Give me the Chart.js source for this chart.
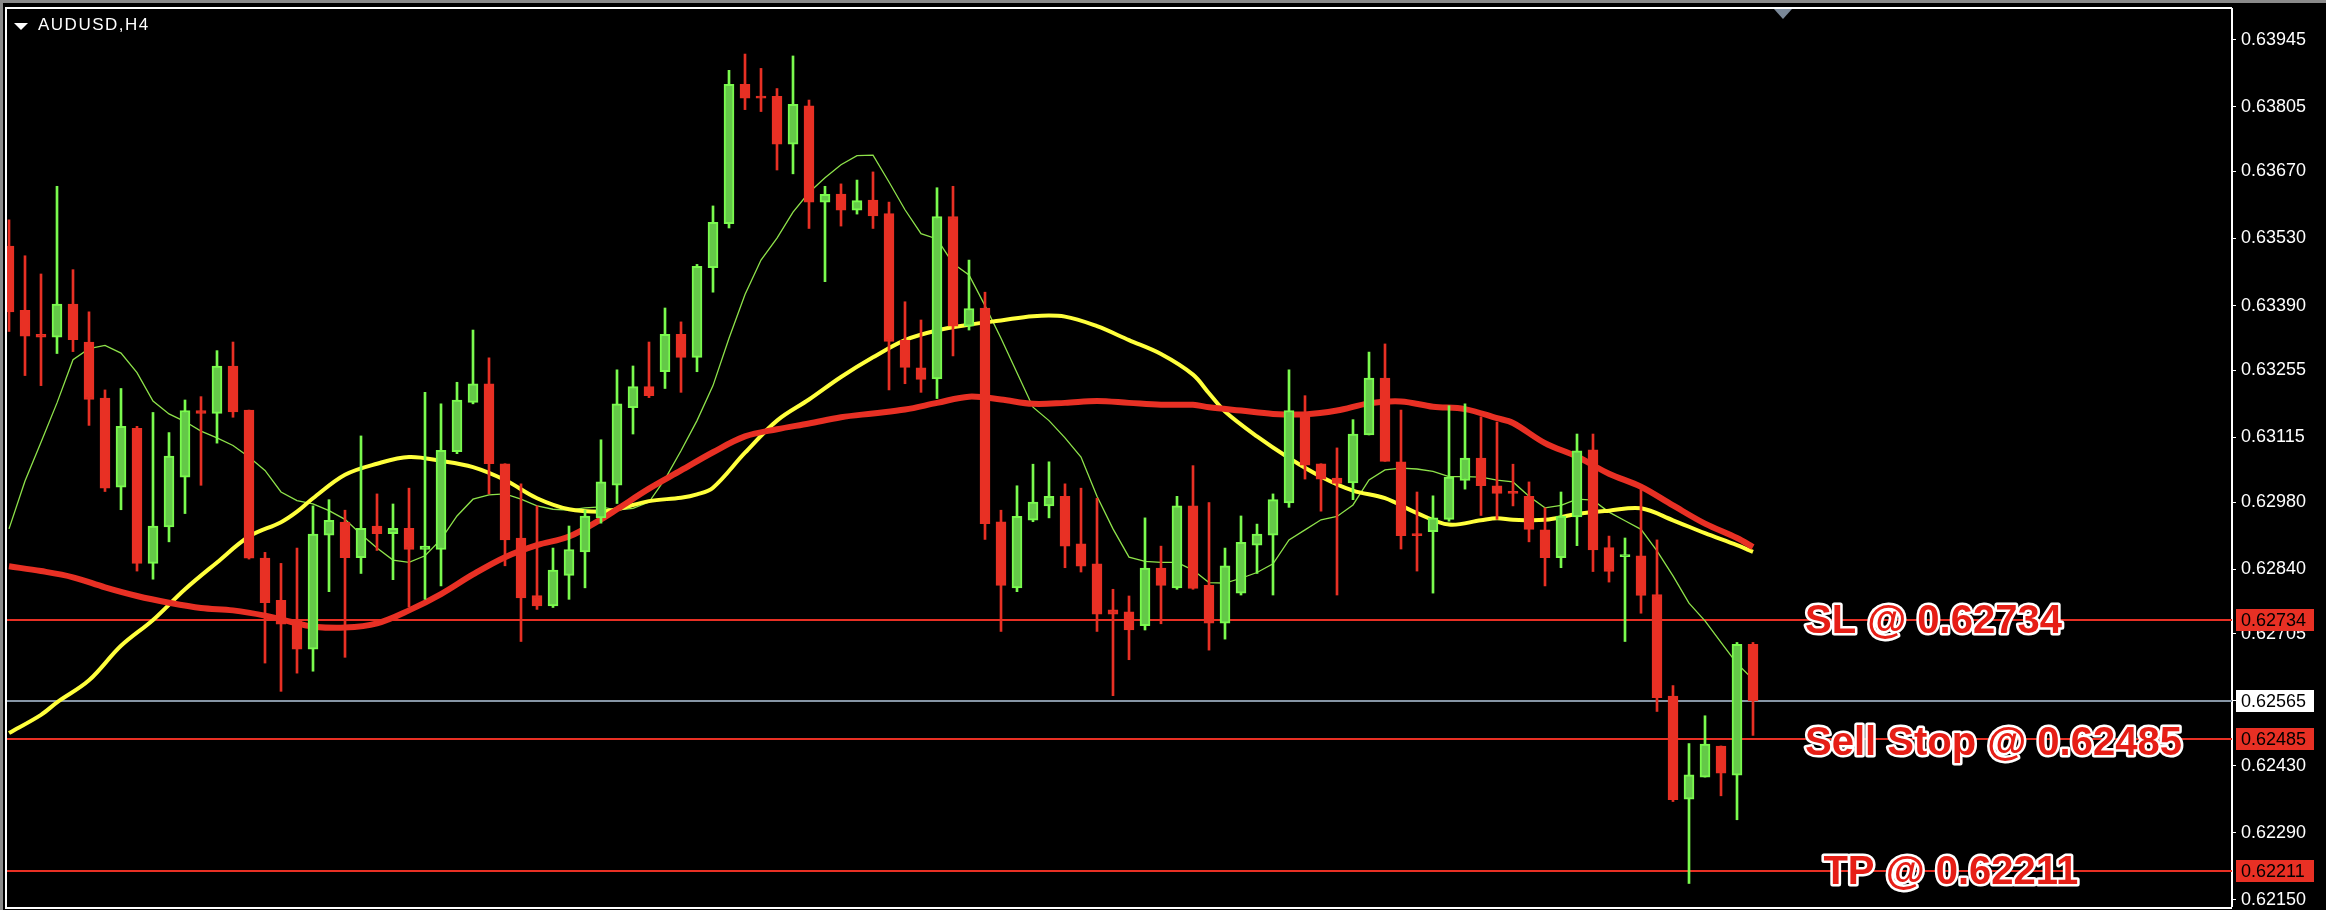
<!DOCTYPE html>
<html><head><meta charset="utf-8">
<script src="https://cdn.jsdelivr.net/npm/chart.js@4.4.0/dist/chart.umd.min.js"></script>
<style>html,body{margin:0;padding:0;background:#000;overflow:hidden}#wrap{width:2326px;height:910px;position:relative}</style>
</head><body><div id="wrap"><canvas id="c" width="2326" height="910"></canvas></div>
<script>
// ---------------- DATA ----------------
const symbolTitle = 'AUDUSD,H4';
const openP = [0.63514,0.63380,0.63330,0.63324,0.63393,0.63314,0.63197,0.63011,0.63134,0.62852,
0.62928,0.63032,0.63171,0.63165,0.63264,0.63172,0.62863,0.62775,0.62731,0.62673,
0.62911,0.62938,0.62864,0.62930,0.62914,0.62925,0.62881,0.62881,0.63085,0.63188,
0.63227,0.63060,0.62905,0.62785,0.62763,0.62827,0.62876,0.62947,0.63015,0.63177,
0.63221,0.63252,0.63330,0.63282,0.63469,0.63561,0.63852,0.63827,0.63827,0.63727,
0.63807,0.63606,0.63623,0.63589,0.63610,0.63582,0.63318,0.63260,0.63237,0.63576,
0.63347,0.63385,0.62939,0.62801,0.62942,0.62972,0.62992,0.62893,0.62851,0.62755,
0.62751,0.62722,0.62842,0.62801,0.62972,0.62806,0.62727,0.62790,0.62890,0.62911,
0.62978,0.63161,0.63060,0.63030,0.63020,0.63120,0.63239,0.63064,0.62914,0.62918,
0.62944,0.63025,0.63072,0.63014,0.63001,0.62992,0.62922,0.62864,0.62949,0.63089,
0.62885,0.62866,0.62868,0.62787,0.62575,0.62360,0.62406,0.62471,0.62410,0.62683];
const highP = [0.63569,0.63494,0.63456,0.63639,0.63465,0.63377,0.63214,0.63217,0.63138,0.63167,
0.63125,0.63193,0.63200,0.63296,0.63314,0.63172,0.62875,0.62852,0.62884,0.62972,
0.62985,0.62963,0.63118,0.62997,0.62976,0.63009,0.63209,0.63185,0.63230,0.63339,
0.63281,0.63060,0.63018,0.62972,0.62884,0.62930,0.62963,0.63110,0.63256,0.63264,
0.63314,0.63385,0.63356,0.63476,0.63598,0.63881,0.63915,0.63885,0.63843,0.63911,
0.63819,0.63639,0.63644,0.63652,0.63669,0.63606,0.63398,0.63360,0.63636,0.63639,
0.63485,0.63418,0.62963,0.63014,0.63059,0.63064,0.63018,0.63009,0.62988,0.62798,
0.62784,0.62947,0.62888,0.62992,0.63056,0.62979,0.62884,0.62951,0.62934,0.62997,
0.63256,0.63202,0.63060,0.63093,0.63152,0.63293,0.63310,0.63172,0.63001,0.62993,
0.63181,0.63185,0.63158,0.63147,0.63059,0.63022,0.62968,0.63001,0.63122,0.63122,
0.62909,0.62905,0.63006,0.62901,0.62597,0.62476,0.62534,0.62471,0.62687,0.62687];
const lowP = [0.63336,0.63244,0.63223,0.63290,0.63294,0.63140,0.63002,0.62964,0.62836,0.62819,
0.62897,0.62956,0.63015,0.63103,0.63157,0.62861,0.62644,0.62585,0.62623,0.62627,
0.62793,0.62656,0.62831,0.62879,0.62818,0.62761,0.62777,0.62805,0.63081,0.63185,
0.62997,0.62847,0.62689,0.62756,0.62760,0.62777,0.62801,0.62936,0.62977,0.63122,
0.63198,0.63217,0.63209,0.63252,0.63418,0.63552,0.63799,0.63795,0.63673,0.63665,
0.63551,0.63440,0.63556,0.63581,0.63551,0.63214,0.63227,0.63209,0.63196,0.63285,
0.63339,0.62902,0.62710,0.62793,0.62939,0.62947,0.62843,0.62834,0.62710,0.62576,
0.62651,0.62713,0.62726,0.62798,0.62798,0.62671,0.62694,0.62786,0.62831,0.62786,
0.62969,0.63028,0.62961,0.62786,0.62985,0.63120,0.63065,0.62882,0.62836,0.62790,
0.62940,0.63007,0.62952,0.62944,0.62972,0.62897,0.62805,0.62843,0.62889,0.62835,
0.62813,0.62689,0.62748,0.62543,0.62355,0.62184,0.62406,0.62367,0.62317,0.62493];
const closeP = [0.63377,0.63326,0.63324,0.63393,0.63319,0.63194,0.63009,0.63138,0.62852,0.62930,
0.63076,0.63171,0.63165,0.63264,0.63168,0.62863,0.62770,0.62725,0.62673,0.62913,
0.62942,0.62864,0.62925,0.62914,0.62925,0.62881,0.62888,0.63088,0.63193,0.63227,
0.63060,0.62901,0.62780,0.62763,0.62838,0.62881,0.62951,0.63022,0.63185,0.63221,
0.63202,0.63330,0.63282,0.63472,0.63564,0.63852,0.63823,0.63823,0.63727,0.63810,
0.63606,0.63622,0.63589,0.63609,0.63577,0.63315,0.63261,0.63236,0.63576,0.63347,
0.63384,0.62935,0.62806,0.62950,0.62980,0.62992,0.62888,0.62846,0.62746,0.62746,
0.62713,0.62842,0.62806,0.62972,0.62800,0.62727,0.62847,0.62896,0.62913,0.62985,
0.63171,0.63057,0.63028,0.63019,0.63122,0.63239,0.63065,0.62910,0.62910,0.62947,
0.63032,0.63072,0.63014,0.62998,0.62998,0.62923,0.62864,0.62951,0.63087,0.62880,
0.62835,0.62870,0.62785,0.62572,0.62359,0.62411,0.62475,0.62414,0.62683,0.62565];

// thin fast MA, one value per candle
const maFast = [0.62924,0.63024,0.63105,0.63187,0.63277,0.63300,0.63307,0.63291,0.63250,0.63191,
0.63164,0.63148,0.63128,0.63114,0.63098,0.63074,0.63046,0.63001,0.62983,0.62976,
0.62962,0.62944,0.62913,0.62884,0.62859,0.62854,0.62868,0.62902,0.62951,0.62986,
0.62995,0.62997,0.62986,0.62972,0.62965,0.62963,0.62968,0.62970,0.62963,0.62967,
0.62980,0.63028,0.63087,0.63150,0.63223,0.63322,0.63413,0.63485,0.63531,0.63585,
0.63626,0.63657,0.63684,0.63703,0.63704,0.63648,0.63590,0.63540,0.63529,0.63478,
0.63454,0.63390,0.63322,0.63250,0.63178,0.63150,0.63114,0.63074,0.62992,0.62924,
0.62865,0.62856,0.62854,0.62854,0.62838,0.62812,0.62811,0.62821,0.62833,0.62851,
0.62901,0.62922,0.62943,0.62950,0.62974,0.63026,0.63047,0.63051,0.63049,0.63044,
0.63033,0.63033,0.63032,0.63026,0.63022,0.62992,0.62968,0.62973,0.62986,0.62984,
0.62959,0.62941,0.62923,0.62878,0.62826,0.62769,0.62732,0.62687,0.62643,0.62610];

// yellow MA, read at these candle indices
const maMidIdx = [0,2,3,5,7,9,11,13,15,17,18,19,21,23,25,27,29,31,33,35,37,38,40,42,43,44,46,48,50,52,54,56,58,60,62,64,66,68,70,72,74,75,76,78,80,82,84,86,88,90,92,93,94,96,98,100,102,104,106,108,109];
const maMid = [0.62498,0.62536,0.62562,0.62608,0.62680,0.62734,0.62798,0.62854,0.62908,0.62938,0.62960,0.62988,0.63037,0.63060,0.63074,0.63066,0.63053,0.63026,0.62988,0.62965,0.62960,0.62965,0.62982,0.62989,0.62996,0.63010,0.63083,0.63150,0.63194,0.63241,0.63282,0.63318,0.63338,0.63350,0.63359,0.63368,0.63367,0.63347,0.63318,0.63289,0.63246,0.63207,0.63169,0.63117,0.63072,0.63033,0.63004,0.62988,0.62957,0.62933,0.62942,0.62946,0.62943,0.62943,0.62955,0.62962,0.62967,0.62942,0.62915,0.62890,0.62876];

// red slow MA, read at these candle indices
const maSlowIdx = [0,2,4,6,8,10,12,14,16,18,19,21,23,25,27,29,31,33,35,37,38,40,42,44,46,48,50,52,54,56,58,60,62,64,66,68,70,72,74,75,77,79,81,83,85,87,89,91,93,94,96,98,100,102,104,106,108,109];
const maSlow = [0.62846,0.62836,0.62823,0.62802,0.62784,0.62770,0.62759,0.62754,0.62743,0.62727,0.62720,0.62718,0.62727,0.62754,0.62788,0.62829,0.62865,0.62890,0.62908,0.62944,0.62965,0.63008,0.63046,0.63084,0.63117,0.63132,0.63144,0.63157,0.63165,0.63173,0.63187,0.63200,0.63194,0.63185,0.63187,0.63191,0.63187,0.63183,0.63183,0.63178,0.63171,0.63164,0.63163,0.63171,0.63186,0.63190,0.63179,0.63174,0.63155,0.63145,0.63103,0.63075,0.63039,0.63012,0.62973,0.62935,0.62905,0.62886];

const tickValues = [0.63945,0.63805,0.63670,0.63530,0.63390,0.63255,0.63115,0.62980,0.62840,0.62705,0.62565,0.62430,0.62290,0.62150];
const priceTop = 0.64009, priceBottom = 0.62137;
const slLevel = 0.62734, sellStopLevel = 0.62485, tpLevel = 0.62211;
const bidLevel = closeP[closeP.length - 1];
const annotations = [
  {text: 'SL @ ' + slLevel.toFixed(5), level: slLevel},
  {text: 'Sell Stop @ ' + sellStopLevel.toFixed(5), level: sellStopLevel},
  {text: 'TP @ ' + tpLevel.toFixed(5), level: tpLevel}
];

// ---------------- STYLE ----------------
const RED = 'rgb(232,48,36)';
const LIME = 'rgb(122,250,78)';
const GFILL = 'rgb(100,200,72)';
const FONT = "'Liberation Sans', Arial, sans-serif";
const idx = openP.map((_, i) => i);
const up = i => closeP[i] >= openP[i];

const framePlugin = {
  id: 'frame',
  beforeDraw(chart) {
    const c = chart.ctx;
    c.save();
    c.fillStyle = '#000';
    c.fillRect(0, 0, chart.width, chart.height);
    c.fillStyle = '#8a8a8a';
    c.fillRect(0, 0, chart.width, 3);
    c.fillRect(0, 0, 3, chart.height);
    c.restore();
  },
  beforeDatasetsDraw(chart) {
    const c = chart.ctx, a = chart.chartArea, y = chart.scales.y;
    c.save();
    const lines = [[slLevel, RED], [sellStopLevel, RED], [tpLevel, RED], [bidLevel, '#8796a6']];
    lines.forEach(([v, col]) => {
      const py = Math.round(y.getPixelForValue(v));
      c.fillStyle = col;
      c.fillRect(a.left, py - 1, a.right - a.left, 2);
    });
    c.restore();
  },
  afterDatasetsDraw(chart) {
    const c = chart.ctx, a = chart.chartArea, y = chart.scales.y, x = chart.scales.x;
    c.save();
    // white frame
    c.fillStyle = '#fff';
    c.fillRect(a.left - 2, a.top - 2, a.right - a.left + 2, 2);
    c.fillRect(a.left - 2, a.top - 2, 2, a.bottom - a.top + 5);
    c.fillRect(a.left - 2, a.bottom + 1, a.right - a.left + 2, 2);
    // title
    c.beginPath();
    c.moveTo(14, 23); c.lineTo(28, 23); c.lineTo(21, 30); c.closePath();
    c.fill();
    c.font = '17px ' + FONT;
    c.letterSpacing = '1.5px';
    c.textBaseline = 'alphabetic';
    c.fillText(symbolTitle, 38, 30);
    c.letterSpacing = '0px';
    // shift marker
    const sx = a.left + (a.right - a.left) * 0.7982;
    c.fillStyle = '#7a8898';
    c.beginPath();
    c.moveTo(sx - 9, a.top); c.lineTo(sx + 9, a.top); c.lineTo(sx, a.top + 10); c.closePath();
    c.fill();
    // annotation labels
    const ax = [112.25, 112.25, 113.4];
    const dy = [13, 16, 13];
    c.font = 'bold 40px ' + FONT;
    c.lineJoin = 'round';
    annotations.forEach((an, k) => {
      const px = x.getPixelForValue(ax[k]);
      const py = y.getPixelForValue(an.level) + dy[k];
      c.strokeStyle = '#fff';
      c.lineWidth = 5;
      c.strokeText(an.text, px, py);
      c.fillStyle = 'rgb(230,30,22)';
      c.fillText(an.text, px, py);
    });
    c.restore();
  },
  afterDraw(chart) {
    const c = chart.ctx, y = chart.scales.y;
    c.save();
    const boxes = [[slLevel, RED], [bidLevel, '#fff'], [sellStopLevel, RED], [tpLevel, RED]];
    c.font = '18px ' + FONT;
    c.textBaseline = 'middle';
    boxes.forEach(([v, col]) => {
      const py = y.getPixelForValue(v);
      c.fillStyle = col;
      c.fillRect(y.left + 4, Math.round(py) - 11, 78, 22);
      c.fillStyle = '#000';
      c.fillText(v.toFixed(5), y.left + 9, py + 1);
    });
    c.restore();
  }
};

new Chart(document.getElementById('c'), {
  type: 'bar',
  data: {
    datasets: [
      {
        type: 'bar', label: 'wicks',
        data: idx.map(i => ({x: i, y: [lowP[i], highP[i]]})),
        backgroundColor: idx.map(i => up(i) ? LIME : RED),
        borderWidth: 0, barThickness: 2, grouped: false, order: 2
      },
      {
        type: 'bar', label: 'bodies',
        data: idx.map(i => ({x: i, y: [openP[i], closeP[i]]})),
        backgroundColor: idx.map(i => up(i) ? GFILL : RED),
        borderColor: idx.map(i => up(i) ? LIME : RED),
        borderWidth: 2, borderSkipped: false, barThickness: 10, minBarLength: 2,
        grouped: false, order: 1
      },
      {
        type: 'line', label: 'MA fast',
        data: maFast.map((v, i) => ({x: i, y: v})),
        borderColor: 'rgb(142,226,74)', borderWidth: 1.3, pointRadius: 0, tension: 0, order: 5
      },
      {
        type: 'line', label: 'MA mid',
        data: maMidIdx.map((i, k) => ({x: i, y: maMid[k]})),
        borderColor: 'rgb(255,255,60)', borderWidth: 4, pointRadius: 0, tension: 0.35, order: 4
      },
      {
        type: 'line', label: 'MA slow',
        data: maSlowIdx.map((i, k) => ({x: i, y: maSlow[k]})),
        borderColor: RED, borderWidth: 6, pointRadius: 0, tension: 0.35, order: 3
      }
    ]
  },
  options: {
    responsive: false, animation: false, devicePixelRatio: 1,
    layout: {padding: {left: 7, top: 9, right: 0, bottom: 4}},
    plugins: {legend: {display: false}, tooltip: {enabled: false}},
    scales: {
      x: {type: 'linear', min: -0.125, max: 138.9375, display: false, offset: false},
      y: {
        type: 'linear', position: 'right', min: priceBottom, max: priceTop,
        afterBuildTicks: s => { s.ticks = tickValues.map(v => ({value: v})); },
        afterFit: s => { s.width = 94; s.paddingTop = 0; s.paddingBottom = 0; },
        ticks: {color: '#fff', font: {family: FONT, size: 18}, padding: 5, autoSkip: false,
                callback: v => Number(v).toFixed(5)},
        grid: {drawOnChartArea: false, drawTicks: true, tickLength: 4, color: '#fff', lineWidth: 1},
        border: {display: true, color: '#fff', width: 2}
      }
    }
  },
  plugins: [framePlugin]
});
</script></body></html>
